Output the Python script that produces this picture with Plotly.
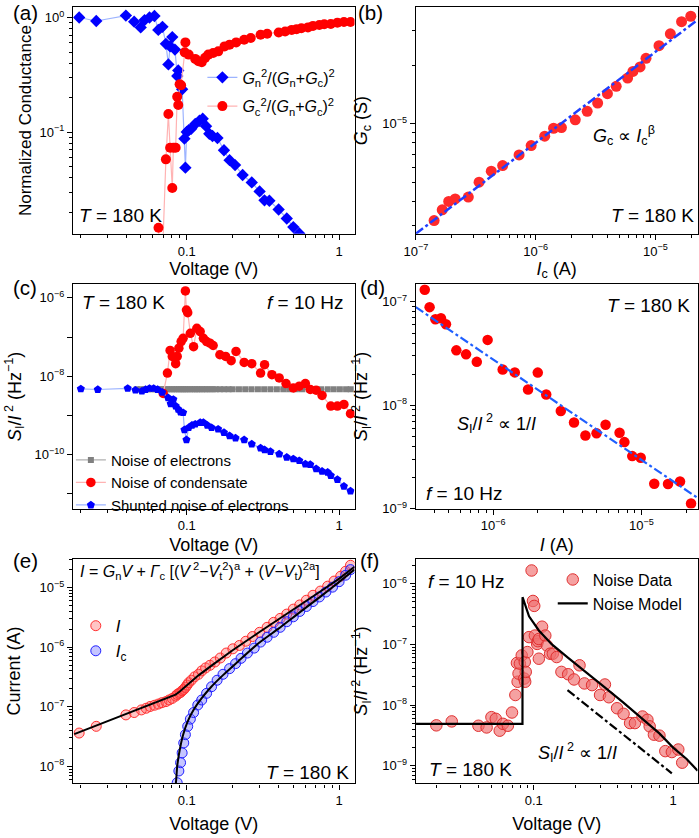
import plotly.graph_objects as go

FONT = "Liberation Sans, Arial, sans-serif"
W, H = 699, 838

# ---------------- data ----------------
# (a) normalized conductance
a_blue_V = [0.0197,0.0255,0.0399,0.0452,0.0499,0.0529,0.057,0.0614,0.0651,0.0693,0.073,0.0758,0.0778,0.0804,0.0837,0.0867,0.088,0.0933,0.0966,0.098,0.1,0.103,0.107,0.1137,0.1212,0.1273,0.1339,0.1406,0.1476,0.159,0.1755,0.191,0.2075,0.2326,0.267,0.3006,0.3236,0.3484,0.4006,0.453,0.5,0.547,0.6]
a_blue_G = [1.0,0.933,1.04,0.92,0.82,0.95,1.0,1.03,0.78,0.83,0.59,0.39,0.56,0.675,0.525,0.309,0.346,0.237,0.0879,0.0491,0.1005,0.104,0.107,0.118,0.126,0.131,0.113,0.097,0.0927,0.089,0.0697,0.0571,0.0517,0.0424,0.0365,0.0305,0.0255,0.0253,0.0212,0.0177,0.0149,0.0131,0.0112]
a_red_V = [0.0653,0.068,0.073,0.0758,0.0778,0.0804,0.0817,0.0846,0.0866,0.088,0.0898,0.0919,0.097,0.098,0.103,0.1137,0.1194,0.1254,0.132,0.1385,0.149,0.161,0.177,0.191,0.211,0.238,0.263,0.305,0.337,0.401,0.442,0.488,0.525,0.565,0.624,0.673,0.741,0.798,0.881,0.973,1.074,1.186]
a_red_G = [0.0147,0.004,0.058,0.144,0.0731,0.0326,0.0731,0.0731,0.204,0.173,0.262,0.257,0.497,0.607,0.475,0.436,0.416,0.408,0.445,0.475,0.491,0.507,0.56,0.58,0.607,0.64,0.662,0.707,0.721,0.74,0.755,0.78,0.79,0.807,0.82,0.845,0.861,0.873,0.879,0.902,0.914,0.914]

# (b) Gc vs Ic
b_Ic = [1.42e-7,1.66e-7,1.88e-7,2.13e-7,2.74e-7,3.37e-7,4.26e-7,5.3e-7,7.27e-7,9.17e-7,1.19e-6,1.41e-6,1.64e-6,2.14e-6,2.69e-6,3.29e-6,3.97e-6,4.7e-6,5.85e-6,6.48e-6,7.43e-6,8.33e-6,1.07e-5,1.33e-5,1.65e-5,1.97e-5]
b_Gc = [3.19e-6,3.62e-6,4.0e-6,4.12e-6,4.21e-6,5.02e-6,5.72e-6,6.11e-6,6.93e-6,7.74e-6,8.65e-6,9.5e-6,9.57e-6,1.05e-5,1.16e-5,1.28e-5,1.43e-5,1.56e-5,1.72e-5,1.86e-5,1.96e-5,2.17e-5,2.52e-5,2.9e-5,3.35e-5,3.57e-5]
b_fit_I = [1e-7, 2.26e-5]
b_fit_G = [2.73e-6, 3.43e-5]

# (c) noise components
c_gray_V = [0.047,0.05,0.053,0.056,0.059,0.062,0.065,0.068,0.071,0.074,0.077,0.08,0.083,0.086,0.089,0.092,0.095,0.098,0.101,0.105,0.109,0.113,0.117,0.121,0.126,0.131,0.136,0.142,0.148,0.155,0.165,0.176,0.188,0.2,0.22,0.242,0.266,0.293,0.322,0.354,0.39,0.43,0.47,0.52,0.57,0.63,0.69,0.76,0.84,0.92,1.01,1.11,1.19]
c_gray_level = 4.7e-9
c_red_V = [0.0701,0.0747,0.0778,0.0804,0.0846,0.0866,0.0888,0.0919,0.0947,0.098,0.0996,0.1015,0.1056,0.1109,0.1165,0.1225,0.1286,0.135,0.142,0.149,0.165,0.18,0.1956,0.2105,0.238,0.267,0.305,0.324,0.362,0.404,0.448,0.5,0.547,0.6,0.646,0.706,0.772,0.881,0.973,1.074,1.186]
c_red_S = [3.65e-9,1.21e-8,4.55e-8,3.21e-8,2.1e-8,3.21e-8,5.2e-8,7.7e-8,9.3e-8,1.5e-6,4.9e-7,4.2e-7,1.25e-7,5.7e-8,1.67e-7,1.38e-7,9.3e-8,7.7e-8,7.0e-8,6.1e-8,3.54e-8,3.21e-8,2.5e-8,4.3e-8,2.26e-8,2.1e-8,1.21e-8,1.97e-8,1.1e-8,9.1e-9,6.5e-9,5.06e-9,5.6e-9,6.5e-9,4.6e-9,4.42e-9,3.25e-9,1.74e-9,1.74e-9,1.92e-9,1.11e-9]
c_blue_V = [0.0202,0.0261,0.041,0.0461,0.0508,0.0537,0.057,0.0607,0.0644,0.069,0.0755,0.0785,0.0817,0.0846,0.088,0.0911,0.0947,0.0966,0.0996,0.103,0.1082,0.1137,0.1225,0.1286,0.1365,0.1455,0.1607,0.1755,0.191,0.209,0.238,0.267,0.305,0.324,0.354,0.404,0.453,0.5,0.547,0.6,0.646,0.706,0.772,0.84,0.881,0.973,1.074,1.186]
c_blue_S = [4.77e-9,4.6e-9,4.9e-9,4.42e-9,4.17e-9,4.6e-9,4.9e-9,4.9e-9,4.6e-9,3.9e-9,2.82e-9,1.99e-9,2.57e-9,1.74e-9,1.44e-9,1.23e-9,1.18e-9,4.3e-10,2.4e-10,4.9e-10,5.65e-10,6.0e-10,6.6e-10,6.6e-10,5.65e-10,4.9e-10,4.48e-10,3.67e-10,3.03e-10,2.65e-10,2.4e-10,1.87e-10,1.48e-10,1.34e-10,1.21e-10,1.04e-10,8.55e-11,7.8e-11,7.05e-11,5.8e-11,5.6e-11,4.35e-11,3.78e-11,3.56e-11,2.94e-11,2.33e-11,1.57e-11,1.18e-11]

# (d) noise vs current
d_I = [3.46e-7,3.73e-7,4.08e-7,4.45e-7,4.81e-7,5.65e-7,6.57e-7,7.76e-7,9.18e-7,1.16e-6,1.4e-6,1.72e-6,2.0e-6,2.28e-6,2.86e-6,3.51e-6,4.19e-6,4.98e-6,5.73e-6,7.12e-6,7.68e-6,8.67e-6,9.89e-6,1.22e-5,1.51e-5,1.82e-5,2.16e-5]
d_S = [1.31e-7,8.9e-8,6.79e-8,6.94e-8,6.08e-8,3.4e-8,3.11e-8,2.63e-8,4.29e-8,2.22e-8,2.08e-8,1.42e-8,2.07e-8,1.27e-8,8.81e-9,6.82e-9,5.09e-9,5.36e-9,6.48e-9,5.41e-9,4.4e-9,3.22e-9,3.1e-9,1.74e-9,1.73e-9,1.83e-9,1.12e-9]
d_fit_I = [3.01e-7, 2.39e-5]
d_fit_S = [8.9e-8, 1.27e-9]

# (e) I-V
e_V = [0.0197,0.0255,0.0399,0.0452,0.0504,0.0542,0.0575,0.0614,0.0651,0.0687,0.073,0.0766,0.0804,0.0846,0.0866,0.0888,0.0911,0.0933,0.0956,0.098,0.1005,0.103,0.1072,0.1126,0.1194,0.1254,0.133,0.142,0.153,0.166,0.1816,0.2006,0.2215,0.244,0.27,0.3006,0.3367,0.3717,0.41,0.453,0.5,0.551,0.609,0.673,0.753,0.84,0.926,1.023,1.102,1.186]
e_I = [3.62e-8,4.69e-8,7.3e-8,8.0e-8,8.85e-8,9.44e-8,1.01e-7,1.06e-7,1.11e-7,1.17e-7,1.22e-7,1.3e-7,1.38e-7,1.51e-7,1.61e-7,1.68e-7,1.74e-7,1.86e-7,1.95e-7,2.11e-7,2.31e-7,2.53e-7,2.79e-7,3.18e-7,3.51e-7,4.0e-7,4.49e-7,4.97e-7,5.65e-7,6.59e-7,7.98e-7,9.4e-7,1.07e-6,1.26e-6,1.51e-6,1.78e-6,2.16e-6,2.62e-6,3.05e-6,3.6e-6,4.36e-6,5.13e-6,6.15e-6,7.45e-6,8.77e-6,1.06e-5,1.29e-5,1.56e-5,1.89e-5,2.38e-5]
e_Vc = [0.0866,0.0888,0.0911,0.0933,0.0956,0.098,0.1015,0.1056,0.1109,0.1182,0.1254,0.135,0.1455,0.1582,0.173,0.191,0.209,0.227,0.25,0.277,0.305,0.3367,0.3717,0.41,0.453,0.5,0.551,0.609,0.673,0.741,0.818,0.904,0.998,1.102,1.186]
e_Ic = [5.3e-9,8.35e-9,1.15e-8,1.68e-8,2.47e-8,3.4e-8,4.69e-8,6.2e-8,8.0e-8,1.07e-7,1.3e-7,1.68e-7,2.17e-7,2.79e-7,3.51e-7,4.37e-7,5.3e-7,6.5e-7,7.98e-7,9.66e-7,1.22e-6,1.47e-6,1.78e-6,2.16e-6,2.68e-6,3.24e-6,3.99e-6,4.83e-6,5.85e-6,6.98e-6,8.45e-6,1.02e-5,1.26e-5,1.62e-5,2.01e-5]
e_fitI_V = [0.0183,0.0845,0.09,0.1,0.12,0.15,0.2,0.3,0.45,0.6,0.8,1.0,1.26]
e_fitI_I = [3.47e-8,1.6e-7,1.8e-7,2.3e-7,3.4e-7,5.2e-7,8.9e-7,1.8e-6,3.55e-6,5.8e-6,9.6e-6,1.42e-5,2.25e-5]
e_fitc_V = [0.0842,0.0855,0.0866,0.09,0.0947,0.1015,0.111,0.125,0.145,0.173,0.211,0.3,0.4,0.55,0.75,1.0,1.26]
e_fitc_I = [4e-9,6.5e-9,1.0e-8,1.9e-8,3.4e-8,5.7e-8,8.9e-8,1.38e-7,2.17e-7,3.4e-7,5.4e-7,1.2e-6,2.05e-6,3.85e-6,7.0e-6,1.25e-5,2.02e-5]

# (f) noise data and model
f_V = [0.02,0.0258,0.0401,0.0459,0.0497,0.0534,0.057,0.0601,0.0652,0.0698,0.0738,0.0757,0.0766,0.0778,0.0795,0.082,0.0854,0.0862,0.0868,0.0876,0.09,0.0925,0.0965,0.0987,0.1008,0.1019,0.1058,0.107,0.1088,0.1088,0.1147,0.121,0.1243,0.131,0.137,0.146,0.158,0.1766,0.1946,0.213,0.231,0.262,0.299,0.324,0.346,0.396,0.441,0.491,0.532,0.603,0.654,0.679,0.728,0.798,0.879,0.979,1.089,1.162]
f_S = [4.65e-9,5.4e-9,4.58e-9,4.3e-9,6.35e-9,5.96e-9,3.8e-9,4.93e-9,4.58e-9,7.57e-9,1.47e-8,4.95e-8,2.43e-8,3.31e-8,4.83e-8,6.59e-8,2.74e-8,5.14e-8,2.43e-8,3.53e-8,7.49e-8,1.32e-7,1.65e-6,5.2e-7,4.31e-7,1.4e-7,1.02e-7,1.13e-7,1.23e-7,5.82e-8,1.96e-7,1.4e-7,9.6e-8,7.03e-8,7.03e-8,6.2e-8,3.53e-8,3.23e-8,2.65e-8,4.53e-8,2.28e-8,2.14e-8,1.47e-8,2.19e-8,1.35e-8,8.9e-9,7.2e-9,5.07e-9,5.07e-9,6.5e-9,5.74e-9,4.48e-9,3.27e-9,3.15e-9,1.75e-9,1.69e-9,1.86e-9,1.13e-9]
f_mod_V = [0.0143,0.083,0.0831,0.0925,0.1088,0.135,0.1766,0.231,0.32,0.44,0.6,0.8,1.0,1.25,1.5]
f_mod_S = [4.93e-9,4.93e-9,6.0e-7,2.9e-7,1.7e-7,1.0e-7,6.0e-8,3.6e-8,2.0e-8,1.1e-8,6.0e-9,3.4e-9,2.0e-9,1.3e-9,8.3e-10]
f_dd_V = [0.1746, 0.979]
f_dd_S = [1.77e-8, 7.55e-10]

# ---------------- layout helpers ----------------
def px_x(p): return p / W
def px_y(p): return 1 - p / H

def sup_pow(e):
    return "10<sup>%s</sup>" % str(e).replace("-", "\u2212")

BLUE = "#0000ff"
RED = "#ff0000"
LBLUE = "#9db4ff"
LRED = "#ffb3b3"
TITLE_SIZE = 18

MINOR_D1 = dict(tickmode="linear", tick0=0, dtick="D1", ticks="outside", ticklen=3,
                tickwidth=1, tickcolor="black")

def axis_common(tsize=TITLE_SIZE):
    return dict(type="log", showline=True, linecolor="black", linewidth=1.4, mirror=True,
                ticks="outside", ticklen=5, tickwidth=1.2, tickcolor="black",
                showgrid=False, zeroline=False,
                tickfont=dict(family=FONT, size=13, color="black"),
                title_font=dict(family=FONT, size=tsize, color="black"))

def v_ticks():
    return dict(tickmode="array", tickvals=[0.1, 1], ticktext=["0.1", "1"], minor=dict(MINOR_D1))

def pow_ticks(exps, minor=True):
    d = dict(tickmode="array", tickvals=[10.0 ** e for e in exps], ticktext=[sup_pow(e) for e in exps])
    if minor:
        d["minor"] = dict(MINOR_D1)
    return d

def title(text, standoff):
    return dict(text=text, standoff=standoff)

# domains (pixels -> paper)
LX = [px_x(62.3), px_x(349)]
RX = [px_x(411.5), px_x(698.5)]
ROW1 = [px_y(236), px_y(7.5)]
ROW2 = [px_y(513.5), px_y(287)]
ROW3 = [px_y(791), px_y(564)]

SI_TITLE = "<i>S</i><sub>I</sub>/<i>I</i><sup> 2</sup> (Hz<sup>\u22121</sup>)"

layout = dict(width=W, height=H, margin=dict(l=0, r=0, t=0, b=0),
              paper_bgcolor="white", plot_bgcolor="white",
              font=dict(family=FONT, color="black"))

# (a)
layout["xaxis"] = dict(axis_common(), domain=LX, anchor="y", range=[-1.745, 0.1004],
                       title=title("Voltage (V)", 2), **v_ticks())
layout["yaxis"] = dict(axis_common(17), domain=ROW1, anchor="x", range=[-1.885, 0.088],
                       title=title("Normalized Conductance", 3), **pow_ticks([-1, 0]))
# (b)
layout["xaxis2"] = dict(axis_common(), domain=RX, anchor="y2", range=[-7.0, -4.6495],
                        title=title("<i>I</i><sub>c</sub> (A)", 4), **pow_ticks([-7, -6, -5]))
layout["yaxis2"] = dict(axis_common(), domain=ROW1, anchor="x2", range=[-5.564, -4.402],
                        title=title("<i>G</i><sub>c</sub> (S)", 9), **pow_ticks([-5]))
# (c)  ticks at every decade, labels on even decades
layout["xaxis3"] = dict(axis_common(), domain=LX, anchor="y3", range=[-1.745, 0.1004],
                        title=title("Voltage (V)", 6), **v_ticks())
layout["yaxis3"] = dict(axis_common(), domain=ROW2, anchor="x3", range=[-11.375, -5.653],
                        title=title(SI_TITLE, 8), **pow_ticks([-10, -8, -6], minor=False),
                        minor=dict(tickmode="linear", tick0=0, dtick=1, ticks="outside", ticklen=5,
                                   tickwidth=1.2, tickcolor="black"))
# (d)
layout["xaxis4"] = dict(axis_common(), domain=RX, anchor="y4", range=[-6.521, -4.622],
                        title=title("<i>I</i> (A)", 6), **pow_ticks([-6, -5]))
layout["yaxis4"] = dict(axis_common(), domain=ROW2, anchor="x4", range=[-9.0, -6.829],
                        title=title(SI_TITLE, 9), **pow_ticks([-9, -8, -7]))
# (e)
layout["xaxis5"] = dict(axis_common(), domain=LX, anchor="y5", range=[-1.745, 0.1004],
                        title=title("Voltage (V)", 10), **v_ticks())
layout["yaxis5"] = dict(axis_common(), domain=ROW3, anchor="x5", range=[-8.288, -4.512],
                        title=title("Current (A)", 14), **pow_ticks([-8, -7, -6, -5]))
# (f)
layout["xaxis6"] = dict(axis_common(), domain=RX, anchor="y6", range=[-1.846, 0.175],
                        title=title("Voltage (V)", 10), **v_ticks())
layout["yaxis6"] = dict(axis_common(), domain=ROW3, anchor="x6", range=[-9.289, -5.587],
                        title=title(SI_TITLE, 9), **pow_ticks([-9, -8, -7, -6]))

# ---------------- traces ----------------
fig = go.Figure()
# (a)
fig.add_trace(go.Scatter(x=a_blue_V, y=a_blue_G, mode="lines+markers", xaxis="x", yaxis="y",
                         name="<i>G</i><sub>n</sub><sup>2</sup>/(<i>G</i><sub>n</sub>+<i>G</i><sub>c</sub>)<sup>2</sup>",
                         line=dict(color=LBLUE, width=1.2),
                         marker=dict(symbol="diamond", size=9.5, color=BLUE), legend="legend", legendgroup="a1"))
fig.add_trace(go.Scatter(x=a_red_V, y=a_red_G, mode="lines+markers", xaxis="x", yaxis="y",
                         name="<i>G</i><sub>c</sub><sup>2</sup>/(<i>G</i><sub>n</sub>+<i>G</i><sub>c</sub>)<sup>2</sup>",
                         line=dict(color=LRED, width=1.2),
                         marker=dict(symbol="circle", size=10, color=RED), legend="legend", legendgroup="a2"))
# (b)
fig.add_trace(go.Scatter(x=b_Ic, y=b_Gc, mode="markers", xaxis="x2", yaxis="y2", showlegend=False,
                         marker=dict(symbol="circle", size=11, color="#ff2a2a")))
fig.add_trace(go.Scatter(x=b_fit_I, y=b_fit_G, mode="lines", xaxis="x2", yaxis="y2", showlegend=False,
                         line=dict(color="#1f3fff", width=2.5, dash="dashdot")))
# (c)
fig.add_trace(go.Scatter(x=c_gray_V, y=[c_gray_level] * len(c_gray_V), mode="lines+markers", xaxis="x3", yaxis="y3",
                         name="Noise of electrons", line=dict(color="#b0b0b0", width=1.2),
                         marker=dict(symbol="square", size=6, color="#808080"), legend="legend2", legendgroup="c1"))
fig.add_trace(go.Scatter(x=c_red_V, y=c_red_S, mode="lines+markers", xaxis="x3", yaxis="y3",
                         name="Noise of condensate", line=dict(color=LRED, width=1.2),
                         marker=dict(symbol="circle", size=9.5, color=RED), legend="legend2", legendgroup="c2"))
fig.add_trace(go.Scatter(x=c_blue_V, y=c_blue_S, mode="lines+markers", xaxis="x3", yaxis="y3",
                         name="Shunted noise of electrons", line=dict(color=LBLUE, width=1.2),
                         marker=dict(symbol="pentagon", size=8.5, color=BLUE), legend="legend2", legendgroup="c3"))
# (d)
fig.add_trace(go.Scatter(x=d_I, y=d_S, mode="markers", xaxis="x4", yaxis="y4", showlegend=False,
                         marker=dict(symbol="circle", size=10.5, color=RED)))
fig.add_trace(go.Scatter(x=d_fit_I, y=d_fit_S, mode="lines", xaxis="x4", yaxis="y4", showlegend=False,
                         line=dict(color="#1f5fff", width=2.2, dash="dashdot")))
# (e)
fig.add_trace(go.Scatter(x=e_V, y=e_I, mode="markers", xaxis="x5", yaxis="y5", name="<i>I</i>",
                         marker=dict(symbol="circle", size=10, color="rgba(255,90,90,0.35)",
                                     line=dict(color="#ff3030", width=1)), legend="legend3", legendgroup="e1"))
fig.add_trace(go.Scatter(x=e_Vc, y=e_Ic, mode="markers", xaxis="x5", yaxis="y5", name="<i>I</i><sub>c</sub>",
                         marker=dict(symbol="circle", size=10, color="rgba(90,90,255,0.35)",
                                     line=dict(color="#2020ff", width=1)), legend="legend3", legendgroup="e2"))
fig.add_trace(go.Scatter(x=e_fitI_V, y=e_fitI_I, mode="lines", xaxis="x5", yaxis="y5", showlegend=False,
                         line=dict(color="black", width=2)))
fig.add_trace(go.Scatter(x=e_fitc_V, y=e_fitc_I, mode="lines", xaxis="x5", yaxis="y5", showlegend=False,
                         line=dict(color="black", width=2, shape="spline", smoothing=0.6)))
# (f)
fig.add_trace(go.Scatter(x=f_V, y=f_S, mode="markers", xaxis="x6", yaxis="y6", name="Noise Data",
                         marker=dict(symbol="circle", size=11.5, color="rgba(240,110,110,0.65)",
                                     line=dict(color="#e03030", width=1)), legend="legend4", legendgroup="f1"))
fig.add_trace(go.Scatter(x=f_mod_V, y=f_mod_S, mode="lines", xaxis="x6", yaxis="y6", name="Noise Model",
                         line=dict(color="black", width=2.2), legend="legend4", legendgroup="f2"))
fig.add_trace(go.Scatter(x=f_dd_V, y=f_dd_S, mode="lines", xaxis="x6", yaxis="y6", showlegend=False,
                         line=dict(color="black", width=2.2, dash="dashdot")))

# ---------------- legends ----------------
def leg(xp, yp, size, gap):
    return dict(x=px_x(xp), y=px_y(yp), xanchor="left", yanchor="top", bgcolor="rgba(0,0,0,0)",
                borderwidth=0, font=dict(family=FONT, size=size, color="black"),
                traceorder="grouped", tracegroupgap=gap, itemwidth=30)

layout["legend"] = leg(194, 61, 16, 5)
layout["legend2"] = leg(60, 448, 15, 0)
layout["legend3"] = leg(65, 614, 17, 0)
layout["legend4"] = leg(551, 568, 16, 0)

# ---------------- annotations ----------------
def ann(text, xp, yp, size=19, xanchor="center"):
    return dict(text=text, x=px_x(xp), y=px_y(yp), xref="paper", yref="paper", showarrow=False,
                xanchor=xanchor, yanchor="middle", font=dict(family=FONT, size=size, color="black"))

T180 = "<i>T</i> = 180 K"
F10 = "<i>f</i> = 10 Hz"
PROP = "<i>S</i><sub>I</sub>/<i>I</i><sup> 2</sup> \u221d 1/<i>I</i>"
annotations = [
    ann("(a)", -1, 13, 20.5, "left"), ann("(b)", 351, 13, 20.5, "left"), ann("(c)", -1, 290, 20.5, "left"),
    ann("(d)", 353, 290, 20.5, "left"), ann("(e)", -1, 566, 20.5, "left"), ann("(f)", 353, 566, 20.5, "left"),
    ann(T180, 111, 218), ann(T180, 652.5, 218),
    ann("<i>G</i><sub>c</sub> \u221d <i>I</i><sub>c</sub><sup>\u03b2</sup>", 623.5, 137, 18),
    ann(T180, 113.5, 305), ann(F10, 299, 305),
    ann(T180, 649, 308),
    ann(PROP, 493.5, 428, 18),
    ann(F10, 461.5, 498),
    ann("<i>I</i> = <i>G</i><sub>n</sub><i>V</i> + <i>\u0393</i><sub>c</sub> [(<i>V</i><sup> 2</sup>\u2212<i>V</i><sub>t</sub><sup>2</sup>)<sup>a</sup> + (<i>V</i>\u2212<i>V</i><sub>t</sub>)<sup>2a</sup>]",
        191.5, 576, 16),
    ann(T180, 301.5, 780),
    ann(F10, 463, 587), ann(T180, 467.5, 777),
    ann(PROP, 576.5, 760, 18),
]
layout["annotations"] = annotations

fig.update_layout(**layout)
fig.write_html("out.html")
